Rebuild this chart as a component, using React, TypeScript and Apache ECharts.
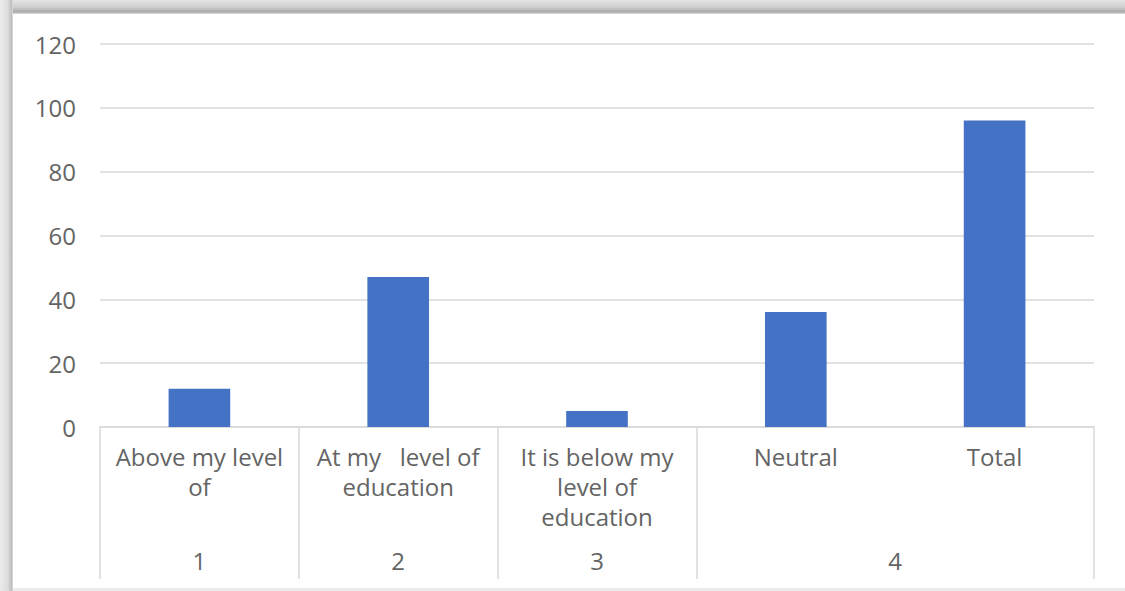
import React, { useEffect, useRef } from "react";
import * as echarts from "echarts";

const categories = [
  "Above my level\nof",
  "At my   level of\neducation",
  "It is below my\nlevel of\neducation",
  "Neutral",
  "Total",
];
const values = [12, 47, 5, 36, 96];
const groupLabels = ["1", "2", "3", "4"];
const groupSpans = [1, 1, 1, 2];
const yTicks = { min: 0, max: 120, interval: 20 };

const FONT = "'Open Sans', sans-serif";
const TEXT = "#646464";
const GRID = "#d9d9d9";
const FS = 24;

export default function App() {
  const ref = useRef<HTMLDivElement>(null);
  useEffect(() => {
    if (!ref.current) return;
    const chart = echarts.init(ref.current, null, { renderer: "svg" });
    const bounds: number[] = [0];
    const centers: number[] = [];
    groupSpans.forEach((s, i) => {
      const start = bounds[i];
      bounds.push(start + s);
      centers.push(start + s / 2);
    });
    chart.setOption({
      animation: false,
      backgroundColor: "#ffffff",
      grid: { left: 100, right: 31, top: 44, bottom: 164, containLabel: false },
      xAxis: [
        {
          type: "category",
          data: categories,
          boundaryGap: true,
          axisLine: { show: true, lineStyle: { color: GRID, width: 1.5 } },
          axisTick: { show: false },
          axisLabel: {
            interval: 0,
            color: TEXT,
            fontFamily: FONT,
            fontSize: FS,
            lineHeight: 30,
            margin: 14,
            align: "center",
          },
        },
        {
          type: "value",
          position: "bottom",
          min: 0,
          max: bounds[bounds.length - 1],
          axisLine: { show: false },
          splitLine: { show: false },
          axisTick: {
            show: true,
            customValues: bounds,
            length: 152,
            lineStyle: { color: GRID, width: 1.5 },
          },
          axisLabel: {
            show: true,
            customValues: centers,
            formatter: (v: number) => {
              const i = centers.indexOf(v);
              return i >= 0 ? groupLabels[i] : "";
            },
            color: TEXT,
            fontFamily: FONT,
            fontSize: FS,
            margin: 121,
          },
        },
      ],
      yAxis: {
        type: "value",
        min: yTicks.min,
        max: yTicks.max,
        interval: yTicks.interval,
        axisLine: { show: false },
        axisTick: { show: false },
        splitLine: { lineStyle: { color: GRID, width: 1.5 } },
        axisLabel: { color: TEXT, fontFamily: FONT, fontSize: FS, margin: 24 },
      },
      series: [
        {
          type: "bar",
          xAxisIndex: 0,
          data: values,
          barWidth: "31%",
          itemStyle: { color: "#4472c4" },
        },
      ],
      graphic: [
        {
          type: "rect",
          shape: { x: 0, y: 0, width: 1125, height: 14 },
          style: {
            fill: new echarts.graphic.LinearGradient(0, 0, 0, 1, [
              { offset: 0, color: "#e4e4e4" },
              { offset: 0.5, color: "#d0d0d0" },
              { offset: 0.85, color: "#a8a8a8" },
              { offset: 1, color: "#e0e0e0" },
            ]),
          },
          silent: true,
        },
        {
          type: "rect",
          shape: { x: 0, y: 0, width: 13, height: 591 },
          style: {
            fill: new echarts.graphic.LinearGradient(0, 0, 1, 0, [
              { offset: 0, color: "#ececec" },
              { offset: 0.6, color: "#dcdcdc" },
              { offset: 0.9, color: "#bdbdbd" },
              { offset: 1, color: "#e6e6e6" },
            ]),
          },
          silent: true,
        },
        {
          type: "rect",
          shape: { x: 13, y: 588, width: 1112, height: 3 },
          style: { fill: "#ececec" },
          silent: true,
        },
      ],
    });
    return () => chart.dispose();
  }, []);
  return (
    <div
      ref={ref}
      style={{ position: "fixed", left: 0, top: 0, width: 1125, height: 591 }}
    />
  );
}
